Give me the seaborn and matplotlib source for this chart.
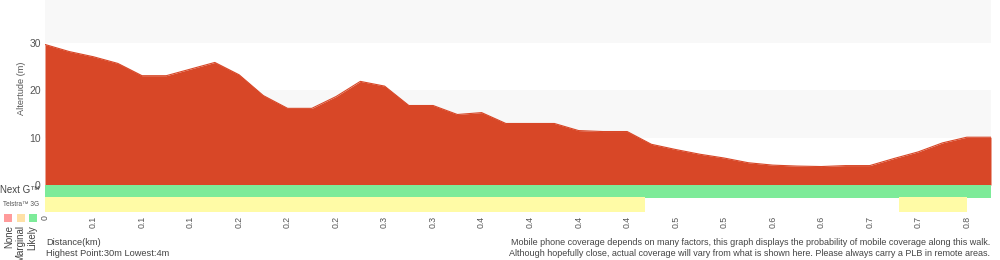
import matplotlib
matplotlib.use("Agg")
import matplotlib.pyplot as plt
import seaborn as sns
import numpy as np
import pandas as pd

# ---- data ----
elevation = [29.7, 28.2, 27.1, 25.7, 23.1, 23.1, 24.5, 25.9, 23.3, 18.9,
             16.2, 16.2, 18.7, 21.9, 20.9, 16.8, 16.8, 14.9, 15.3, 13.0,
             13.0, 13.0, 11.5, 11.3, 11.3, 8.6, 7.5, 6.5, 5.7, 4.7,
             4.2, 4.0, 3.9, 4.1, 4.1, 5.6, 7.0, 8.9, 10.1, 10.1]
x_tick_labels = ["0", "0.1", "0.1", "0.1", "0.2", "0.2", "0.2", "0.3", "0.3", "0.4",
                 "0.4", "0.4", "0.4", "0.5", "0.5", "0.6", "0.6", "0.7", "0.7", "0.8"]
y_ticks = [0, 10, 20, 30]
nextg_likely = [(0.0, 39.0)]               # (start, end) in sample index units
telstra3g_marginal = [(0.0, 24.75), (35.2, 38.0)]

RED = "#D84727"
GREEN = "#7DEB99"
YELLOW = "#FFFBA6"
BAND = "#F8F8F8"
GREY_TXT = "#555555"

sns.set_style("white")
plt.rcParams["font.family"] = ["Liberation Sans", "DejaVu Sans"]

W, H = 1000, 260
fig = plt.figure(figsize=(W / 100, H / 100), dpi=100)

def px_axes(x0, y0, x1, y1):
    return fig.add_axes([x0 / W, 1 - y1 / H, (x1 - x0) / W, (y1 - y0) / H])

# ---- elevation axes ----
ax = px_axes(45, 0, 991, 185)
idx = np.arange(len(elevation))
df = pd.DataFrame({"idx": idx, "elev": elevation})
ymax = 39.1
ax.axhspan(30, ymax, color=BAND, lw=0, zorder=0)
ax.axhspan(10, 20, color=BAND, lw=0, zorder=0)
ax.fill_between(df["idx"], 0, df["elev"], color=RED, lw=0, zorder=2)
sns.lineplot(data=df, x="idx", y="elev", ax=ax, color=RED, lw=0.8, zorder=3)
ax.set_xlim(0, len(elevation) - 1)
ax.set_ylim(0, ymax)
ax.set_yticks(y_ticks)
ax.set_yticklabels([str(v) for v in y_ticks], fontsize=7.5, color=GREY_TXT)
ax.tick_params(axis="y", length=0, pad=3)
ax.set_xticks([])
ax.set_xlabel("")
ax.set_ylabel("")
for s in ax.spines.values():
    s.set_visible(False)
fig.text(22 / W, 1 - 88 / H, "Altertude (m)", rotation=90, ha="center", va="center",
         fontsize=6.6, color=GREY_TXT)

# ---- coverage axes ----
cax = px_axes(45, 185, 991, 212)
cax.set_xlim(0, len(elevation) - 1)
cax.set_ylim(0, 27)
cax.broken_barh([(a, b - a) for a, b in nextg_likely], (14, 13), facecolors=GREEN, lw=0)
cax.broken_barh([(a, b - a) for a, b in telstra3g_marginal], (0, 15), facecolors=YELLOW, lw=0)
cax.set_xticks(np.arange(0, 2 * len(x_tick_labels), 2))
cax.set_xticklabels(x_tick_labels, rotation=90, fontsize=6.3, color=GREY_TXT)
cax.tick_params(axis="x", length=0, pad=2.5)
cax.set_yticks([])
for s in cax.spines.values():
    s.set_visible(False)

# ---- left legend texts ----
fig.text(0 / W, 1 - 190 / H, "Next G\u2122", ha="left", va="center", fontsize=7, color="#444444")
fig.text(3 / W, 1 - 204 / H, "Telstra\u2122 3G", ha="left", va="center", fontsize=4.7, color=GREY_TXT)
leg_cols = ["#FF9B9B", "#FFE1A6", GREEN]
leg_x = [4, 16.5, 28.5]
for c, x in zip(leg_cols, leg_x):
    fig.patches.append(plt.Rectangle((x / W, 1 - 222 / H), 8 / W, 8 / H, transform=fig.transFigure,
                                     facecolor=c, edgecolor="none"))
for lab, x in zip(["None", "Marginal", "Likely"], [9, 20.5, 32.5]):
    fig.text(x / W, 1 - 225 / H, lab, rotation=90, ha="center", va="top", fontsize=7, color="#444444")

# ---- bottom texts ----
fig.text(46 / W, 1 - 242.5 / H, "Distance(km)", ha="left", va="center", fontsize=6.7, color="#444444")
fig.text(46 / W, 1 - 253 / H, "Highest Point:30m Lowest:4m", ha="left", va="center", fontsize=6.7, color="#444444")
fig.text(990 / W, 1 - 242.5 / H,
         "Mobile phone coverage depends on many factors, this graph displays the probability of mobile coverage along this walk.",
         ha="right", va="center", fontsize=6.5, color="#444444")
fig.text(990 / W, 1 - 253 / H,
         "Although hopefully close, actual coverage will vary from what is shown here. Please always carry a PLB in remote areas.",
         ha="right", va="center", fontsize=6.5, color="#444444")

fig.savefig("out.png", dpi=100)
